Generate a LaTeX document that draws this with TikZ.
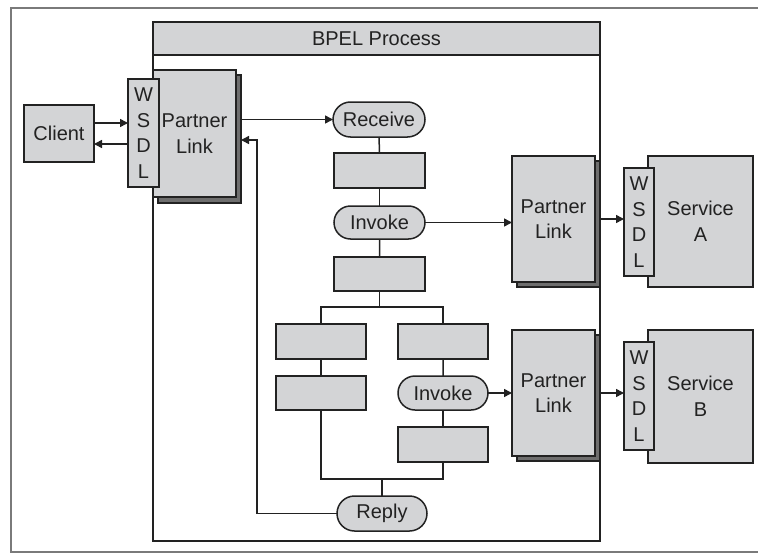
\documentclass[tikz,border=0pt]{standalone}
\usepackage{fontspec}
\setmainfont{Liberation Sans}
\usetikzlibrary{arrows.meta,shapes.misc}
\definecolor{boxfill}{HTML}{D3D4D6}
\definecolor{shadowfill}{HTML}{6E6E6E}
\definecolor{ink}{HTML}{222222}
\definecolor{framegray}{HTML}{7A7A7A}
\tikzset{
  % place a node by its corner coordinates x1,y1,x2,y2
  geom/.style n args={4}{at={({(#1+#3)/2},{(#2+#4)/2})},
    minimum width={(#3-#1)*1pt}, minimum height={(#4-#2)*1pt}},
  txt/.style={text=ink, font=\fontsize{20}{25.5}\selectfont, align=center},
  block/.style={draw=ink, line width=1.5pt, fill=boxfill, rectangle,
    inner sep=0pt, outer sep=0pt, txt},
  backbox/.style={block, fill=shadowfill},
  stadium/.style={block, rounded rectangle},
  link/.style={draw=ink, line width=1.5pt},
  arr/.style={link, -{Triangle[length=8pt,width=8pt]}},
}
\begin{document}
\begin{tikzpicture}[x=1pt,y=-1pt]
\useasboundingbox (0,0) rectangle (758,554);
\fill[white] (0,0) rectangle (758,554);

% outer frame
\draw[framegray, line width=1.5pt] (758,8) -- (11,8) -- (11,552) -- (758,552);

% BPEL process container
\node[block, fill=none, geom={153}{55}{600}{541}] (bpel) {};
\node[block, geom={153}{22}{600}{55}] (bpelhead) {BPEL Process};

% client side
\node[block, geom={24}{105}{94}{162}] (client) {Client};
\node[backbox, geom={158}{75}{241}{203}] (plcs) {};
\node[block, geom={153}{70}{236}{197}] (plc) {Partner\\Link};
\node[block, geom={128}{79}{159}{187}] (wsdlc) {W\\S\\D\\L};

% main sequence
\node[stadium, geom={333}{102}{425}{137}] (receive) {Receive};
\node[block, geom={334}{153}{425}{188}] (act1) {};
\node[stadium, geom={334}{206}{425}{239}] (invoke1) {Invoke};
\node[block, geom={334}{257}{425}{291}] (act2) {};

% parallel branches
\node[block, geom={276}{324}{366}{359}] (lb1) {};
\node[block, geom={276}{376}{366}{410}] (lb2) {};
\node[block, geom={398}{324}{488}{359}] (rb1) {};
\node[stadium, geom={398}{376}{488}{410}] (invoke2) {Invoke};
\node[block, geom={398}{427}{488}{462}] (rb3) {};
\node[stadium, geom={337}{496}{427}{531}] (reply) {Reply};

% service A
\node[backbox, geom={517}{161}{600}{287}] (plas) {};
\node[block, geom={512}{156}{595}{282}] (pla) {Partner\\Link};
\node[block, geom={648}{156}{753}{287}] (serva) {Service\\A};
\node[block, geom={624}{168}{654}{276}] (wsdla) {W\\S\\D\\L};

% service B
\node[backbox, geom={517}{335}{600}{461}] (plbs) {};
\node[block, geom={512}{330}{595}{456}] (plb) {Partner\\Link};
\node[block, geom={648}{330}{753}{463}] (servb) {Service\\B};
\node[block, geom={624}{342}{654}{450}] (wsdlb) {W\\S\\D\\L};

% control flow
\coordinate (splitL) at (321,307);
\coordinate (splitR) at (443,307);
\coordinate (joinL) at (321,479);
\coordinate (joinR) at (443,479);
\coordinate (back) at (257,140);

\draw[link] (receive) -- (act1);
\draw[link] (act1) -- (invoke1);
\draw[link] (invoke1) -- (act2);
\draw[link] (act2.south) -- (act2.south |- splitL);
\draw[link] (lb1.north) -- (splitL) -- (splitR) -- (rb1.north);
\draw[link] (lb1) -- (lb2);
\draw[link] (rb1) -- (invoke2);
\draw[link] (invoke2) -- (rb3);
\draw[link] (lb2.south) -- (joinL) -- (joinR) -- (rb3.south);
\draw[link] (reply.north) -- (reply.north |- joinL);

% messages
\draw[arr] ([yshift=10.5pt]client.east) -- ([yshift=10.5pt]client.east -| wsdlc.west);
\draw[arr] ([yshift=-10.5pt]client.east -| wsdlc.west) -- ([yshift=-10.5pt]client.east);
\draw[arr] (receive.west -| plcs.east) -- (receive.west);
\draw[arr] (reply.west) -| (back) -- (back -| plcs.east);
\draw[arr] (invoke1.east) -- (invoke1.east -| pla.west);
\draw[arr] (pla.east -| plas.east) -- (pla.east -| wsdla.west);
\draw[arr] (invoke2.east) -- (invoke2.east -| plb.west);
\draw[arr] (plb.east -| plbs.east) -- (plb.east -| wsdlb.west);
\end{tikzpicture}
\end{document}
